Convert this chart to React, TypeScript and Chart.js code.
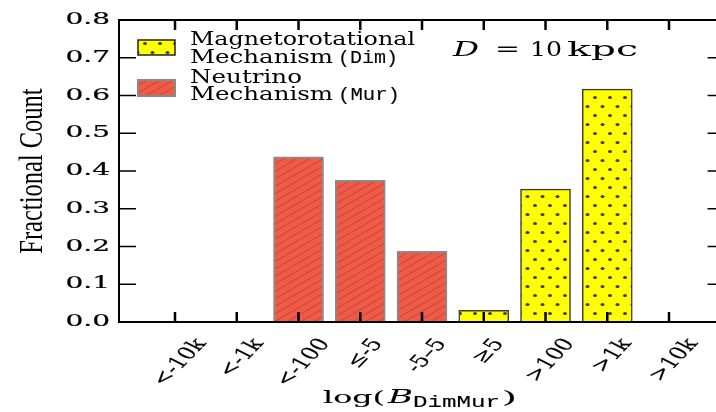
import React, { useEffect, useRef } from 'react';
import { Chart, registerables } from 'chart.js';

Chart.register(...registerables);

// ---- data ----
const categories = ['<-10k', '<-1k', '<-100', '≤-5', '-5–5', '≥5', '>100', '>1k', '>10k'];
const dimValues: (number | null)[] = [null, null, null, null, null, 0.031, 0.352, 0.617, null];
const murValues: (number | null)[] = [null, null, 0.4375, 0.375, 0.1875, null, null, null, null];
const yTickValues = [0, 0.1, 0.2, 0.3, 0.4, 0.5, 0.6, 0.7, 0.8];
const yTickLabels = ['0.0', '0.1', '0.2', '0.3', '0.4', '0.5', '0.6', '0.7', '0.8'];
const dimLabel = ['Magnetorotational', 'Mechanism', '(Dim)'];
const murLabel = ['Neutrino', 'Mechanism', '(Mur)'];
const yTitle = 'Fractional Count';
const annotation = ['D', '=', '10', 'kpc'];
const xTitleParts = ['log(', 'B', 'DimMur', ')'];

const SERIF = '"DejaVu Serif"';
const MONO = '"Liberation Mono"';

function fitText(
  ctx: CanvasRenderingContext2D,
  text: string,
  x: number,
  y: number,
  font: string,
  w: number,
  align: CanvasTextAlign = 'left',
  stroke = 0.12
) {
  ctx.save();
  ctx.font = font;
  const m = ctx.measureText(text).width || 1;
  ctx.translate(x, y);
  ctx.scale(w / m, 1);
  ctx.textAlign = align;
  ctx.textBaseline = 'alphabetic';
  ctx.fillText(text, 0, 0);
  if (stroke > 0) {
    ctx.lineWidth = stroke;
    ctx.strokeStyle = '#000';
    ctx.strokeText(text, 0, 0);
  }
  ctx.restore();
}

function makeDots(): CanvasPattern | string {
  const c = document.createElement('canvas');
  c.width = 15;
  c.height = 18;
  const g = c.getContext('2d');
  if (!g) return '#ffff00';
  g.fillStyle = '#ffff00';
  g.fillRect(0, 0, 15, 18);
  g.fillStyle = '#3c3c3c';
  g.beginPath();
  g.ellipse(10, 7.5, 2, 1.5, 0, 0, Math.PI * 2);
  g.fill();
  g.beginPath();
  g.ellipse(2.5, 16.5, 2, 1.5, 0, 0, Math.PI * 2);
  g.fill();
  const p = g.createPattern(c, 'repeat');
  return p || '#ffff00';
}

function makeHatch(): CanvasPattern | string {
  const c = document.createElement('canvas');
  c.width = 26;
  c.height = 15;
  const g = c.getContext('2d');
  if (!g) return '#f05a46';
  g.fillStyle = '#f05a46';
  g.fillRect(0, 0, 26, 15);
  g.strokeStyle = 'rgba(160,60,45,0.6)';
  g.lineWidth = 1;
  for (let k = -2; k <= 2; k++) {
    g.beginPath();
    g.moveTo(k * 13, 15);
    g.lineTo(k * 13 + 26, 0);
    g.stroke();
  }
  const p = g.createPattern(c, 'repeat');
  return p || '#f05a46';
}

export default function App() {
  const ref = useRef<HTMLCanvasElement>(null);

  useEffect(() => {
    const canvas = ref.current;
    if (!canvas) return;
    const dots = makeDots();
    const hatch = makeHatch();

    const decor = {
      id: 'decor',
      afterDraw(chart: any) {
        const ctx: CanvasRenderingContext2D = chart.ctx;
        const a = chart.chartArea;
        const xs = chart.scales.x;
        const ys = chart.scales.y;
        ctx.save();
        ctx.strokeStyle = '#000';
        ctx.fillStyle = '#000';

        // frame
        ctx.lineWidth = 2;
        ctx.beginPath();
        ctx.moveTo(a.left, a.top);
        ctx.lineTo(a.left, a.bottom);
        ctx.lineTo(a.right, a.bottom);
        ctx.lineTo(a.right, a.top);
        ctx.closePath();
        ctx.stroke();

        // x ticks (inward, top & bottom)
        ctx.lineWidth = 2.5;
        categories.forEach((_, i) => {
          const px = xs.getPixelForValue(i);
          ctx.beginPath();
          ctx.moveTo(px, a.bottom);
          ctx.lineTo(px, a.bottom - 10);
          ctx.moveTo(px, a.top);
          ctx.lineTo(px, a.top + 10);
          ctx.stroke();
        });

        // y ticks (inward, left & right)
        ctx.lineWidth = 1.5;
        yTickValues.forEach((v) => {
          const py = ys.getPixelForValue(v);
          ctx.beginPath();
          ctx.moveTo(a.left, py);
          ctx.lineTo(a.left + 17, py);
          ctx.moveTo(a.right, py);
          ctx.lineTo(a.right - 17, py);
          ctx.stroke();
        });

        // y tick labels
        yTickLabels.forEach((t, i) => {
          const py = ys.getPixelForValue(yTickValues[i]);
          ctx.save();
          ctx.font = `16px ${SERIF}`;
          ctx.translate(a.left - 9, py);
          ctx.scale(1.75, 1);
          ctx.textAlign = 'right';
          ctx.textBaseline = 'middle';
          ctx.fillText(t, 0, 0);
          ctx.lineWidth = 0.2;
          ctx.strokeText(t, 0, 0);
          ctx.restore();
        });

        // x tick labels (rotated, bbox centred under tick)
        const th = (55 * Math.PI) / 180;
        categories.forEach((t, i) => {
          const px = xs.getPixelForValue(i);
          ctx.save();
          ctx.font = `17.5px ${SERIF}`;
          const L = ctx.measureText(t).width;
          const h = 13;
          const bbH = L * Math.sin(th) + h * Math.cos(th);
          ctx.translate(px + 5, a.bottom + 15 + bbH / 2);
          ctx.scale(1.4, 1);
          ctx.rotate(-th);
          ctx.textAlign = 'center';
          ctx.textBaseline = 'middle';
          ctx.fillText(t, 0, 0);
          ctx.lineWidth = 0.15;
          ctx.strokeText(t, 0, 0);
          ctx.restore();
        });

        // y title
        ctx.save();
        ctx.font = `24.5px "Liberation Serif"`;
        ctx.translate(41.5, (a.top + a.bottom) / 2);
        ctx.scale(1.36, 1);
        ctx.rotate(-Math.PI / 2);
        ctx.textAlign = 'center';
        ctx.textBaseline = 'alphabetic';
        ctx.fillText(yTitle, 0, 0);
        ctx.restore();

        // x title
        fitText(ctx, xTitleParts[0], 323, 403, `17px ${SERIF}`, 62);
        fitText(ctx, xTitleParts[1], 388, 403, `italic 18px ${SERIF}`, 25);
        fitText(ctx, xTitleParts[2], 413, 407, `16px ${MONO}`, 87);
        fitText(ctx, xTitleParts[3], 502, 403, `17px ${SERIF}`, 15);

        // annotation D = 10 kpc
        fitText(ctx, annotation[0], 453, 56, `italic 20px ${SERIF}`, 26, 'left', 0);
        fitText(ctx, annotation[1], 495, 56, `20px ${SERIF}`, 25, 'left', 0);
        fitText(ctx, annotation[2], 530, 56, `20px ${SERIF}`, 32, 'left', 0);
        fitText(ctx, annotation[3], 567, 56, `20px ${SERIF}`, 71, 'left', 0);

        // legend
        ctx.fillStyle = dots as any;
        ctx.fillRect(138, 40, 37, 15);
        ctx.strokeStyle = '#222';
        ctx.lineWidth = 1.5;
        ctx.strokeRect(138, 40, 37, 15);
        ctx.fillStyle = hatch as any;
        ctx.fillRect(138, 80, 37, 16);
        ctx.strokeStyle = '#8a8a8a';
        ctx.lineWidth = 2;
        ctx.strokeRect(138, 80, 37, 16);

        ctx.fillStyle = '#000';
        fitText(ctx, dimLabel[0], 190, 45, `18px ${SERIF}`, 225, 'left', 0);
        fitText(ctx, dimLabel[1], 190, 63, `18px ${SERIF}`, 143, 'left', 0);
        fitText(ctx, dimLabel[2], 338, 63, `18px ${MONO}`, 60, 'left', 0.1);
        fitText(ctx, murLabel[0], 190, 83, `18px ${SERIF}`, 112, 'left', 0);
        fitText(ctx, murLabel[1], 190, 100, `18px ${SERIF}`, 143, 'left', 0);
        fitText(ctx, murLabel[2], 338, 100, `18px ${MONO}`, 62, 'left', 0.1);

        ctx.restore();
      },
    };

    const toPoints = (arr: (number | null)[]) =>
      arr.map((v, i) => ({ x: i, y: v })).filter((p) => p.y !== null);

    const chart = new Chart(canvas, {
      type: 'bar',
      data: {
        datasets: [
          {
            label: 'Magnetorotational Mechanism (Dim)',
            data: toPoints(dimValues) as any,
            backgroundColor: dots as any,
            borderColor: '#3a3a3a',
            borderWidth: 1.5,
            grouped: false,
            barThickness: 50,
          } as any,
          {
            label: 'Neutrino Mechanism (Mur)',
            data: toPoints(murValues) as any,
            backgroundColor: hatch as any,
            borderColor: '#8a8a8a',
            borderWidth: 2,
            grouped: false,
            barThickness: 50,
          } as any,
        ],
      },
      options: {
        animation: false,
        responsive: true,
        maintainAspectRatio: false,
        layout: { padding: { top: 20, right: 5.4, left: 0, bottom: 0 } },
        plugins: { legend: { display: false }, tooltip: { enabled: false } },
        scales: {
          x: {
            type: 'linear',
            min: -0.907,
            max: 8.9,
            offset: false,
            grid: { display: false },
            border: { display: false },
            ticks: { display: false },
            afterBuildTicks: (s: any) => {
              s.ticks = categories.map((_, i) => ({ value: i }));
            },
            afterFit: (s: any) => {
              s.height = 90;
            },
          },
          y: {
            min: 0,
            max: 0.8,
            grid: { display: false },
            border: { display: false },
            ticks: { display: false, stepSize: 0.1 },
            afterFit: (s: any) => {
              s.width = 119;
            },
          },
        },
      } as any,
      plugins: [decor],
    });

    return () => chart.destroy();
  }, []);

  return (
    <div
      style={{
        position: 'absolute',
        left: 0,
        top: 0,
        width: 716,
        height: 412,
        overflow: 'hidden',
        background: '#fff',
      }}
    >
      <div style={{ position: 'relative', width: 730, height: 412 }}>
        <canvas ref={ref} />
      </div>
    </div>
  );
}
